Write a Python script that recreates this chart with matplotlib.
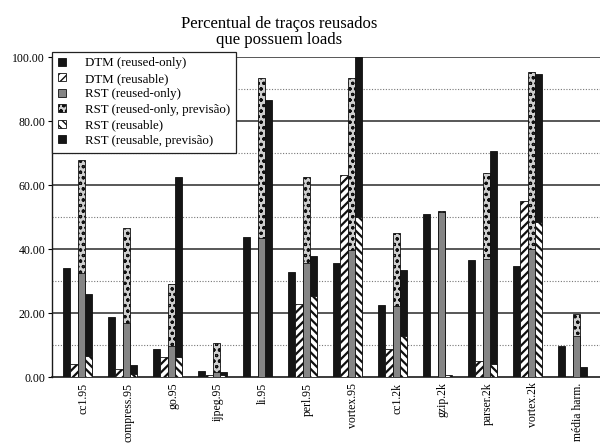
import matplotlib
matplotlib.use("Agg")
import matplotlib.pyplot as plt
import numpy as np

plt.rcParams['font.family'] = ['Liberation Serif', 'DejaVu Serif']

benchmarks = ["cc1.95", "compress.95", "go.95", "ijpeg.95", "li.95", "perl.95",
              "vortex.95", "cc1.2k", "gzip.2k", "parser.2k", "vortex.2k", "média harm."]

dtm_reused_only = [34.1, 18.6, 8.8, 1.8, 43.7, 32.8, 35.7, 22.4, 51.0, 36.7, 34.8, 9.8]
dtm_reusable = [4.1, 2.6, 6.2, 0.5, 0.0, 22.7, 63.0, 8.8, 0.0, 4.9, 55.1, 0.0]
rst_reused_only = [32.4, 17.0, 9.8, 1.5, 43.4, 35.7, 39.8, 22.2, 51.5, 36.9, 40.0, 12.9]
rst_reused_only_prev = [67.9, 46.5, 29.0, 10.6, 93.5, 62.5, 93.5, 45.0, 52.0, 63.8, 95.4, 19.8]
rst_reusable = [6.5, 1.0, 6.2, 0.5, 0.0, 25.3, 50.1, 12.9, 0.5, 4.1, 48.6, 0.0]
rst_reusable_prev = [25.8, 3.8, 62.5, 1.5, 86.5, 37.9, 100.0, 33.3, 0.3, 70.8, 94.8, 3.1]

yticks = [0, 20, 40, 60, 80, 100]
ytick_labels = ["0.00", "20.00", "40.00", "60.00", "80.00", "100.00"]

fig = plt.figure(figsize=(6.0, 4.46), dpi=100)
ax = fig.add_axes([0.0867, 0.1547, 0.9133, 0.7173])

x = np.arange(len(benchmarks))
w = 0.162
off = np.array([-1.5, -0.5, 0.5, 1.5]) * w

black = "#151515"
edge = "#101010"


def bars(pos, vals, hatch_lw=1.6, **kw):
    with plt.rc_context({"hatch.linewidth": hatch_lw}):
        cont = ax.bar(pos, vals, w, edgecolor=edge, lw=0.6, **kw)
    for p in cont.patches:
        if hasattr(p, "set_hatch_linewidth"):
            p.set_hatch_linewidth(hatch_lw)
    return cont


h1 = bars(x + off[0], dtm_reused_only, color=black, zorder=3, label="DTM (reused-only)")
h2 = bars(x + off[1], dtm_reusable, color="white", hatch="////", zorder=3,
          label="DTM (reusable)")
h4 = bars(x + off[2], rst_reused_only_prev, hatch_lw=0.8, color="#cfcfcf", hatch="ooo",
          zorder=3, label="RST (reused-only, previsão)")
h3 = bars(x + off[2], rst_reused_only, color="#858585", zorder=4, label="RST (reused-only)")
h6 = bars(x + off[3], rst_reusable_prev, color=black, zorder=3, label="RST (reusable, previsão)")
h5 = bars(x + off[3], rst_reusable, color="white", hatch="\\\\\\\\", zorder=4,
          label="RST (reusable)")

ax.set_xlim(-0.57, len(benchmarks) - 1 + 0.61)
ax.set_ylim(0, 100)
ax.set_yticks(yticks)
ax.set_yticklabels(ytick_labels, fontsize=8.5)
ax.set_xticks(x + 0.12)
ax.set_xticklabels(benchmarks, rotation=90, fontsize=8.5, va="top", ha="center")
ax.tick_params(axis="x", length=0, pad=4)
ax.tick_params(axis="y", length=3, width=0.8, pad=2, direction="out")

for v in [20, 40, 60, 80, 100]:
    ax.axhline(v, color="#2a2a2a", lw=1.1, zorder=1)
for v in [10, 30, 50, 70, 90]:
    ax.axhline(v, color="#777777", lw=0.8, ls=(0, (1, 1.5)), zorder=1)

for s in ["top", "right"]:
    ax.spines[s].set_visible(False)
ax.spines["left"].set_color("#1a1a1a")
ax.spines["bottom"].set_color("#1a1a1a")
ax.spines["left"].set_linewidth(1.0)
ax.spines["bottom"].set_linewidth(1.2)

leg = ax.legend(handles=[h1, h2, h3, h4, h5, h6], loc="upper left",
                bbox_to_anchor=(0.0, 1.017), fontsize=9.3, frameon=True, fancybox=False,
                edgecolor="#222222", framealpha=1.0, handlelength=0.6, handleheight=0.6,
                labelspacing=0.27, borderpad=0.45, handletextpad=1.5, borderaxespad=0.0)
leg.get_frame().set_linewidth(0.9)
leg.set_zorder(10)

fig.text(0.465, 0.965, "Percentual de traços reusados\nque possuem loads", ha="center",
         va="top", fontsize=12, linespacing=1.0)

fig.savefig("out.png", dpi=100)
